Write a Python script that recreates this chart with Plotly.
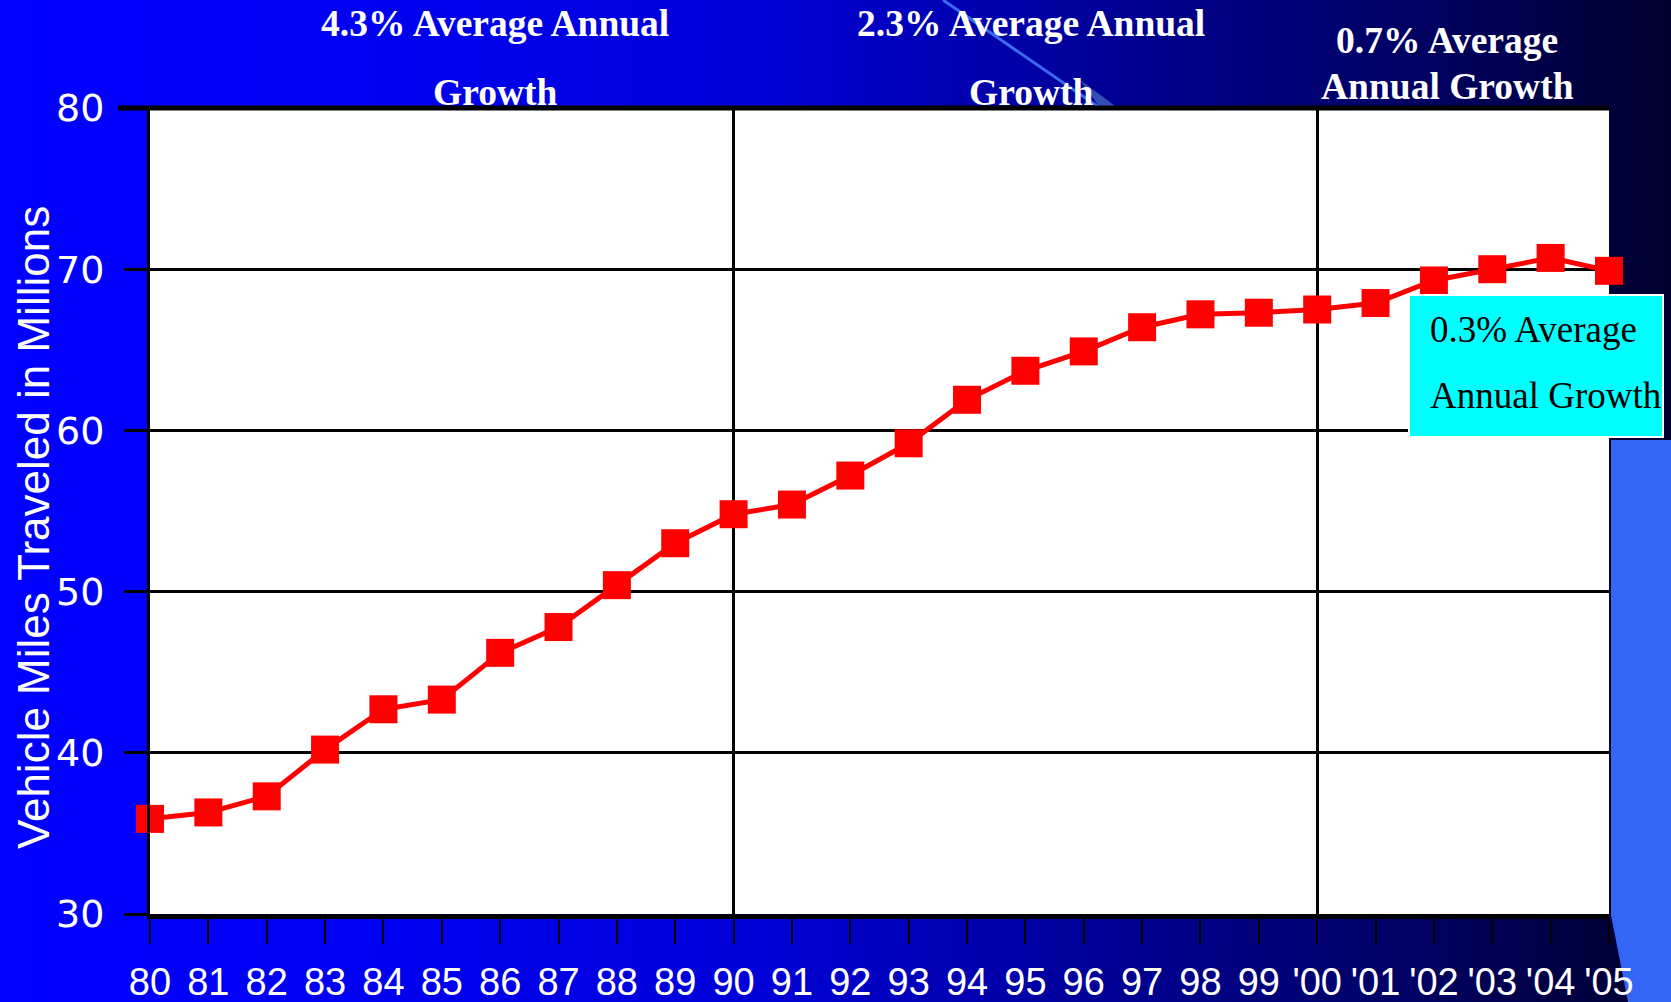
import base64
import plotly.graph_objects as go

# ---------------- data ----------------
years = list(range(1980, 2006))
year_labels = ["80", "81", "82", "83", "84", "85", "86", "87", "88", "89",
               "90", "91", "92", "93", "94", "95", "96", "97", "98", "99",
               "'00", "'01", "'02", "'03", "'04", "'05"]
vmt = [35.9, 36.3, 37.3, 40.2, 42.7, 43.3, 46.2, 47.8, 50.4, 53.0,
       54.8, 55.4, 57.2, 59.2, 61.9, 63.7, 64.9, 66.4, 67.2, 67.3,
       67.5, 67.9, 69.3, 70.0, 70.7, 69.9]
y_ticks = [30, 40, 50, 60, 70, 80]
period_labels = [("4.3% Average Annual", "Growth"),
                 ("2.3% Average Annual", "Growth"),
                 ("0.7% Average", "Annual Growth")]
box_label = ("0.3% Average", "Annual Growth")
y_title = "Vehicle Miles Traveled in Millions"

# ---------------- geometry ----------------
W, H = 1671, 1002
ML, MR, MT, MB = 150, 62, 108, 88
PW, PH = W - ML - MR, H - MT - MB


def px(x):
    return (x - ML) / PW


def py(y):
    return 1 - (y - MT) / PH


# background (slide-like gradient) as svg
svg = f"""<svg xmlns='http://www.w3.org/2000/svg' width='{W}' height='{H}' viewBox='0 0 {W} {H}' preserveAspectRatio='none'>
<defs><linearGradient id='g' x1='0' y1='0' x2='1' y2='0'>
<stop offset='0' stop-color='#0000FF'/>
<stop offset='0.22' stop-color='#0000F2'/>
<stop offset='0.46' stop-color='#0000D6'/>
<stop offset='0.70' stop-color='#00008A'/>
<stop offset='0.85' stop-color='#000062'/>
<stop offset='1' stop-color='#00002E'/>
</linearGradient></defs>
<rect x='0' y='0' width='{W}' height='{H}' fill='url(#g)'/>
<polygon points='1080,80 1118,108 1100,108' fill='#4060C0' opacity='0.8'/>
<line x1='943' y1='0' x2='1100' y2='108' stroke='#3A6AF0' stroke-width='3'/>
<polygon points='1611,440 {W},440 {W},{H} 1628,{H} 1611,915' fill='#3366F5'/>
</svg>"""
src = "data:image/svg+xml;base64," + base64.b64encode(svg.encode()).decode()

fig = go.Figure()

fig.add_trace(go.Scatter(
    x=years, y=vmt, mode="lines+markers",
    line=dict(color="#FF0000", width=5),
    marker=dict(symbol="square", size=28, color="#FF0000"),
    cliponaxis=False, showlegend=False,
))
# helper trace for the decade gridlines
fig.add_trace(go.Scatter(x=[years[0], years[-1]], y=[y_ticks[0], y_ticks[0]],
                         xaxis="x2", mode="none", showlegend=False,
                         hoverinfo="skip"))

fig.update_layout(
    width=W, height=H,
    margin=dict(l=ML, r=MR, t=MT, b=MB, autoexpand=False),
    paper_bgcolor="#0000FF",
    plot_bgcolor="white",
    xaxis=dict(
        range=[years[0], years[-1]],
        tickmode="array", tickvals=years, ticktext=year_labels,
        showgrid=False, zeroline=False,
        ticks="outside", ticklen=25, tickwidth=2, tickcolor="black",
        showline=True, linecolor="black", linewidth=5,
        tickfont=dict(family="Liberation Sans, Arial", size=38, color="white"),
        ticklabelstandoff=5,
        fixedrange=True,
    ),
    xaxis2=dict(
        overlaying="x", range=[years[0], years[-1]],
        tickmode="array", tickvals=years[10::10],
        showgrid=True, gridcolor="black", gridwidth=2.5,
        showticklabels=False, ticks="", zeroline=False, showline=False,
    ),
    yaxis=dict(
        range=[y_ticks[0], y_ticks[-1]],
        tickmode="array", tickvals=y_ticks,
        showgrid=True, gridcolor="black", gridwidth=2.5, zeroline=False,
        ticks="outside", ticklen=23, tickwidth=3, tickcolor="black",
        showline=True, linecolor="black", linewidth=3,
        tickfont=dict(family="DejaVu Sans", size=38, color="white"),
        ticklabelstandoff=12,
        fixedrange=True,
    ),
    images=[dict(source=src, xref="paper", yref="paper",
                 x=px(0), y=py(0), sizex=W / PW, sizey=H / PH,
                 xanchor="left", yanchor="top", sizing="stretch",
                 layer="below")],
    shapes=[
        dict(type="rect", xref="paper", yref="paper", x0=0, x1=1, y0=0, y1=1,
             fillcolor="white", line=dict(width=0), layer="below"),
        dict(type="line", xref="paper", yref="paper", x0=px(118), x1=1, y0=1, y1=1,
             line=dict(color="black", width=5), layer="above"),
        dict(type="rect", xref="paper", yref="paper",
             x0=px(1409), x1=px(1663), y0=py(295), y1=py(437),
             fillcolor="#00FFFF", line=dict(color="white", width=2), layer="above"),
    ],
)

annos = []
title_font = dict(family="Liberation Serif, Times New Roman", size=37.5, color="white")
period_pos = [(495, 24, 92), (1031, 24, 92), (1447, 41, 86)]
for (l1, l2), (cx, y1, y2) in zip(period_labels, period_pos):
    annos.append(dict(x=px(cx), y=py(y1), xref="paper", yref="paper", text=f"<b>{l1}</b>",
                      showarrow=False, font=title_font, xanchor="center", yanchor="middle"))
    annos.append(dict(x=px(cx), y=py(y2), xref="paper", yref="paper", text=f"<b>{l2}</b>",
                      showarrow=False, font=title_font, xanchor="center", yanchor="middle"))

box_font = dict(family="Liberation Serif, Times New Roman", size=37, color="black")
for txt, yy in zip(box_label, (329, 395)):
    annos.append(dict(x=px(1428), y=py(yy), xref="paper", yref="paper", text=txt,
                      showarrow=False, font=box_font, xanchor="left", yanchor="middle"))

annos.append(dict(x=px(33), y=py(528), xref="paper", yref="paper", text=y_title,
                  textangle=-90, showarrow=False,
                  font=dict(family="Liberation Sans, Arial", size=44, color="white"),
                  xanchor="center", yanchor="middle"))
fig.update_layout(annotations=annos)

fig.write_html("out.html", config={"displayModeBar": False},
               post_script="document.body.style.margin='0';document.body.style.overflow='hidden';")
